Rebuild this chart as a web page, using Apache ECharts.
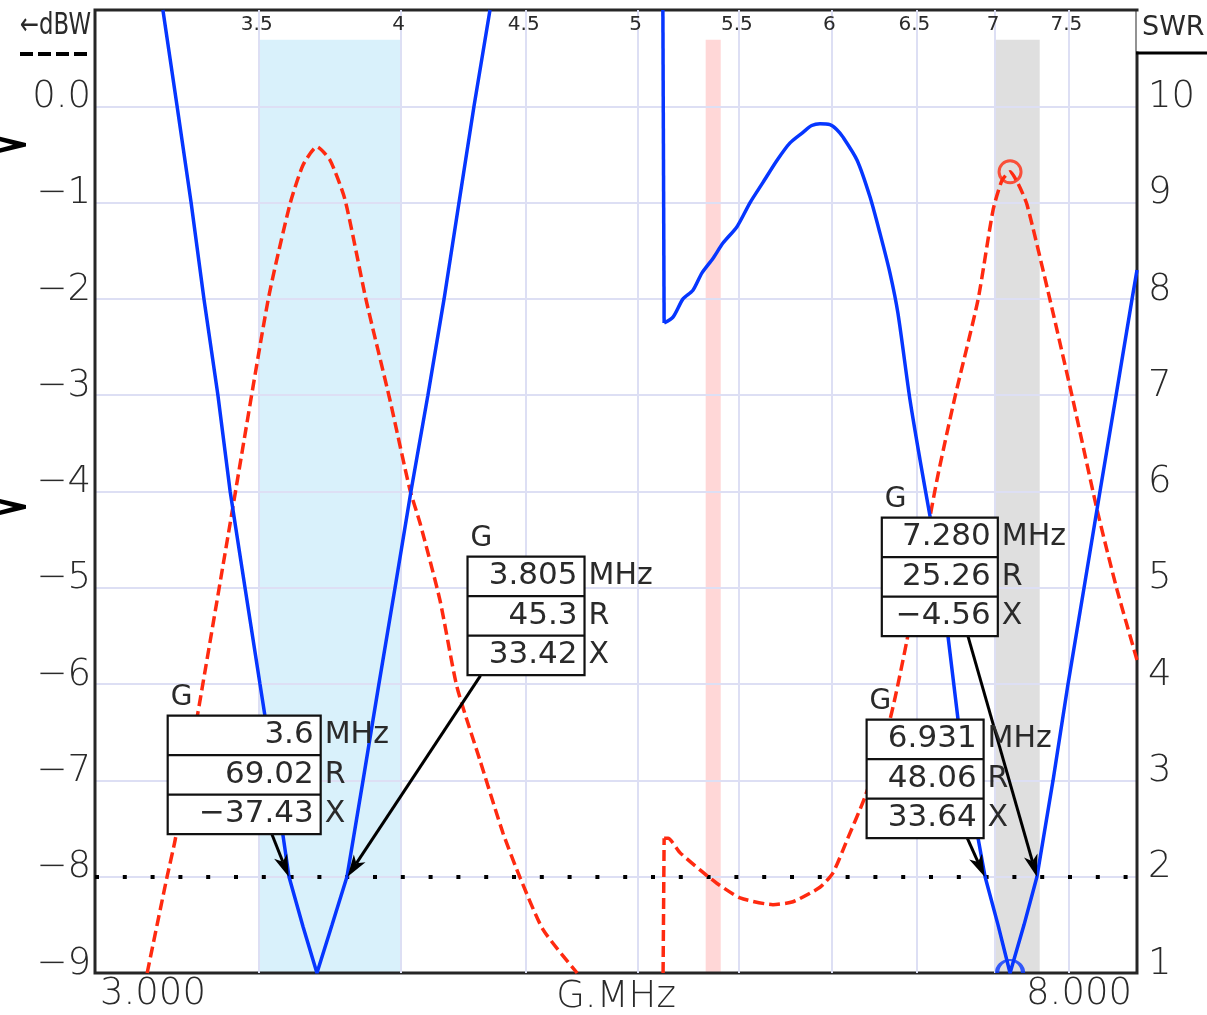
<!DOCTYPE html>
<html><head><meta charset="utf-8">
<script src="https://cdn.jsdelivr.net/npm/echarts@6/dist/echarts.min.js"></script>
<style>html,body{margin:0;padding:0;background:#fff}#c{width:1207px;height:1015px}</style>
</head><body><div id="c"></div>
<script>
// ---------- DATA ----------
// SWR curve (right axis), first resonance (80 m)
const swrFreq1 = [3.198, 3.241, 3.284, 3.324, 3.368, 3.407, 3.455, 3.504, 3.554, 3.601, 3.649, 3.697, 3.750, 3.803, 3.861, 3.919, 3.979, 4.039, 4.104, 4.167, 4.226, 4.286, 4.351];
const swrVal1  = [11.0, 10.0, 9.0, 8.0, 7.0, 6.0, 5.0, 4.0, 3.0, 2.0, 1.48, 1.0, 1.5, 2.0, 3.0, 4.0, 5.0, 6.0, 7.0, 8.0, 9.0, 10.0, 11.0];
// SWR curve, second part (60 m / 40 m)
const swrFreq2 = [5.120, 5.126, 5.169, 5.218, 5.267, 5.312, 5.367, 5.418, 5.490, 5.558, 5.626, 5.701, 5.771, 5.842, 5.890, 5.936, 5.992, 6.030, 6.066, 6.147, 6.222, 6.281, 6.340, 6.388, 6.461, 6.522, 6.584, 6.696, 6.760, 6.843, 6.934, 7.019, 7.099, 7.193, 7.281, 7.392, 7.497, 7.611, 7.726, 7.844, 7.963, 8.0];
const swrVal2  = [11.0, 7.75, 7.81, 8.00, 8.09, 8.27, 8.42, 8.58, 8.75, 9.00, 9.21, 9.44, 9.62, 9.73, 9.80, 9.82, 9.81, 9.76, 9.68, 9.44, 9.06, 8.68, 8.27, 7.85, 6.95, 6.33, 5.74, 4.50, 3.63, 2.80, 2.0, 1.5, 1.0, 1.5, 2.0, 3.0, 4.0, 5.0, 6.0, 7.0, 8.0, 8.30];
// dBW curve (left axis)
const dbwFreq1 = [3.151, 3.210, 3.235, 3.305, 3.407, 3.531, 3.604, 3.649, 3.697, 3.743, 3.796, 3.872, 3.960, 4.035, 4.074, 4.151, 4.218, 4.310, 4.405, 4.476, 4.574, 4.723];
const dbwVal1  = [-9.0, -8.01, -7.62, -6.30, -4.33, -2.01, -1.02, -0.61, -0.42, -0.56, -0.97, -2.01, -3.05, -3.98, -4.33, -5.13, -6.03, -6.79, -7.55, -8.01, -8.55, -9.0];
const dbwFreq2 = [5.121, 5.126, 5.145, 5.203, 5.302, 5.388, 5.506, 5.679, 5.787, 5.936, 6.009, 6.089, 6.193, 6.340, 6.443, 6.627, 6.740, 6.888, 6.986, 7.045, 7.099, 7.152, 7.213, 7.371, 7.532, 7.705, 7.851, 8.0];
const dbwVal2  = [-9.0, -7.60, -7.60, -7.75, -7.93, -8.07, -8.22, -8.29, -8.26, -8.11, -7.96, -7.62, -7.17, -6.37, -5.54, -3.88, -3.02, -2.01, -1.08, -0.77, -0.68, -0.80, -1.02, -2.01, -3.05, -4.19, -5.02, -5.75];
// band plan shading (MHz)
const bandStart = [3.5, 5.3305, 7.0];
const bandEnd   = [4.0, 5.4065, 7.3];
const bandTopDbw = 0.69;
// frequency tick labels along the top
const topTicks = [3.5, 4, 4.5, 5, 5.5, 6, 6.5, 7, 7.5];
const xEnds = [3, 8];
// SWR reference level
const swrRef = 2;
// markers (G): frequency, R, X
const markerFreq  = [3.6, 3.805, 6.931, 7.280];
const markerFText = ['3.6', '3.805', '6.931', '7.280'];
const markerR = [69.02, 45.3, 48.06, 25.26];
const markerX = [-37.43, 33.42, 33.64, -4.56];
// peak / minimum markers
const peakFreq = 7.099, peakDbw = -0.68, minSwr = 1.0;
// left pointers (dBW)
const pointerDbw = [-0.40, -4.16];

// ---------- STYLE ----------
const FONT = '"DejaVu Sans", sans-serif';
const BLUE = '#0636ff', RED = '#ff2a10', GRIDC = '#dddff4', TXT = '#2a2a2a';
const bandColors = ['#d9f1fb', '#ffd7d7', '#dfdfdf'];
const swrSplit = 26; // index where the rounded hump ends and the sharp V begins
const markerLayout = [
  {dx: -121, dy: -161, w: 153, sx: -17, sy: -43},
  {dx: 120, dy: -320, w: 117, sx: 133, sy: -201},
  {dx: -118, dy: -157, w: 117, sx: -18, sy: -40},
  {dx: -155, dy: -359, w: 116, sx: -69, sy: -241}
];

const zip = (a, b) => a.map((v, i) => [v, b[i]]);
const minus = s => String(s).replace('-', '\u2212');

const chart = echarts.init(document.getElementById('c'), null, {renderer: 'canvas'});

const lineBase = {type: 'line', showSymbol: false, symbol: 'none', silent: true, z: 5, animation: false};
const swr2 = zip(swrFreq2, swrVal2);
const dbw2 = zip(dbwFreq2, dbwVal2);
const RED_STYLE = {color: RED, width: 3.5, type: [11, 5]};
const BLUE_STYLE = {color: BLUE, width: 3.5};
const yLabel = {fontSize: 37, fontFamily: FONT, fontWeight: 300, color: TXT, verticalAlign: 'bottom', lineHeight: 18};

const option = {
  animation: false,
  backgroundColor: '#ffffff',
  grid: {left: 95, right: 70, top: 10, bottom: 42, show: true, borderColor: '#262626', borderWidth: 3,
         backgroundColor: 'transparent', containLabel: false, outerBoundsMode: 'none', z: 4},
  xAxis: {type: 'log', logBase: 10, min: xEnds[0], max: xEnds[1],
    axisLine: {show: false}, axisTick: {show: false}, axisLabel: {show: false}, splitLine: {show: false},
    name: 'G.MHz', nameLocation: 'middle', nameGap: 6,
    nameTextStyle: {fontSize: 37, fontFamily: FONT, fontWeight: 300, color: TXT, verticalAlign: 'top'}},
  yAxis: [
    {type: 'value', min: -9, max: 1, interval: 1, position: 'left', z: 3,
     axisLine: {show: false}, axisTick: {show: false},
     splitLine: {show: true, lineStyle: {color: GRIDC, width: 2}},
     axisLabel: Object.assign({margin: 4, formatter: v => v === 1 ? '' : (v === 0 ? '0.0' : minus(v))}, yLabel)},
    {type: 'value', min: 1, max: 11, interval: 1, position: 'right',
     axisLine: {show: false}, axisTick: {show: false}, splitLine: {show: false},
     axisLabel: Object.assign({margin: 11, formatter: v => v === 11 ? '' : String(v)}, yLabel)}
  ],
  series: [
    {type: 'line', name: 'bands', data: [], yAxisIndex: 0, z: 1, silent: true,
     markArea: {silent: true, data: bandStart.map((s, i) => [
       {xAxis: s, yAxis: -9, itemStyle: {color: bandColors[i]}}, {xAxis: bandEnd[i], yAxis: bandTopDbw}])}},
    {type: 'line', name: 'vgrid', data: [], yAxisIndex: 0, z: 3, silent: true,
     markLine: {silent: true, symbol: 'none', label: {show: false},
       lineStyle: {color: GRIDC, width: 2, type: 'solid'},
       data: topTicks.map(t => ({xAxis: t}))}},
    Object.assign({}, lineBase, {name: 'dBW', yAxisIndex: 0, data: zip(dbwFreq1, dbwVal1), smooth: 0.2, lineStyle: RED_STYLE}),
    Object.assign({}, lineBase, {name: 'dBW2a', yAxisIndex: 0, data: dbw2.slice(0, 2), lineStyle: RED_STYLE}),
    Object.assign({}, lineBase, {name: 'dBW2b', yAxisIndex: 0, data: dbw2.slice(1), smooth: 0.2, lineStyle: RED_STYLE}),
    Object.assign({}, lineBase, {name: 'SWR', yAxisIndex: 1, data: zip(swrFreq1, swrVal1), lineStyle: BLUE_STYLE}),
    Object.assign({}, lineBase, {name: 'SWR2a', yAxisIndex: 1, data: swr2.slice(0, 2), lineStyle: BLUE_STYLE}),
    Object.assign({}, lineBase, {name: 'SWR2b', yAxisIndex: 1, data: swr2.slice(1, swrSplit + 1), smooth: 0.25, lineStyle: BLUE_STYLE}),
    Object.assign({}, lineBase, {name: 'SWR2c', yAxisIndex: 1, data: swr2.slice(swrSplit), lineStyle: BLUE_STYLE,
      markLine: {silent: true, symbol: 'none', label: {show: false},
        lineStyle: {color: '#000', width: 4, type: [4, 23.8], cap: 'butt'},
        data: [{yAxis: swrRef}]}}),
    {type: 'scatter', yAxisIndex: 0, z: 6, silent: true, data: [[peakFreq, peakDbw]],
     symbol: 'circle', symbolSize: 22, itemStyle: {color: 'rgba(0,0,0,0)', borderColor: RED, borderWidth: 3}},
    {type: 'scatter', yAxisIndex: 1, z: 6, silent: true, data: [[peakFreq, minSwr]],
     symbol: 'path://M0,10 A10,10 0 0 1 20,10', symbolSize: [26, 13], symbolOffset: [0, -6.5],
     itemStyle: {color: 'rgba(0,0,0,0)', borderColor: BLUE, borderWidth: 3}}
  ]
};
chart.setOption(option);

// ---------- annotations positioned through the chart's scales ----------
const els = [];
function text(x, y, s, size, align, valign, extra, weight) {
  return Object.assign({type: 'text', x: x, y: y, z: 20, silent: true,
    style: {text: s, fontSize: size, fontFamily: FONT, fontWeight: weight || 'normal', fill: TXT,
      textAlign: align, align: align, textVerticalAlign: valign, verticalAlign: valign}}, extra || {});
}
// top tick labels
topTicks.forEach(t => {
  const x = chart.convertToPixel({xAxisIndex: 0}, t);
  els.push(text(x - 2, 25, String(t), 20, 'center', 'middle'));
});
// bottom end labels
const xl = chart.convertToPixel({xAxisIndex: 0}, xEnds[0]);
const xr = chart.convertToPixel({xAxisIndex: 0}, xEnds[1]);
els.push(text(xl + 5, 994, xEnds[0].toFixed(3), 37, 'left', 'middle', null, 300));
els.push(text(xr - 5, 994, xEnds[1].toFixed(3), 37, 'right', 'middle', null, 300));
// markers
markerFreq.forEach((f, i) => {
  const L = markerLayout[i];
  const p = chart.convertToPixel({seriesIndex: 5}, [f, swrRef]);
  const ax = p[0], ay = p[1];
  const left = ax + L.dx, top = ay + L.dy, w = L.w, rh = 39.5;
  // arrow
  const sx = ax + L.sx, sy = ay + L.sy;
  let ux = ax - sx, uy = ay - sy; const len = Math.hypot(ux, uy); ux /= len; uy /= len;
  const nx = -uy, ny = ux;
  const bx = ax - ux * 22, by = ay - uy * 22;
  const kx = ax - ux * 16, ky = ay - uy * 16;
  els.push({type: 'line', z: 18, silent: true, shape: {x1: sx, y1: sy, x2: kx, y2: ky}, style: {stroke: '#000', lineWidth: 3}});
  els.push({type: 'polygon', z: 18, silent: true, shape: {points: [[ax, ay], [bx + nx * 7, by + ny * 7], [kx, ky], [bx - nx * 7, by - ny * 7]]}, style: {fill: '#000'}});
  // box
  els.push({type: 'rect', z: 19, silent: true, shape: {x: left, y: top, width: w, height: rh * 3}, style: {fill: '#fff', stroke: '#111', lineWidth: 2.2}});
  for (let r = 1; r < 3; r++) {
    els.push({type: 'line', z: 19, silent: true, shape: {x1: left, y1: top + rh * r, x2: left + w, y2: top + rh * r}, style: {stroke: '#111', lineWidth: 2.2}});
  }
  const vals = [markerFText[i], minus(markerR[i]), minus(markerX[i])];
  const units = ['MHz', 'R', 'X'];
  vals.forEach((v, r) => {
    const cy = top + rh * (r + 0.5);
    els.push(text(left + w - 7, cy, v, 31, 'right', 'middle'));
    els.push(text(left + w + 4, cy, units[r], 30, 'left', 'middle'));
  });
  els.push(text(left + 3, top - 18, 'G', 28, 'left', 'middle'));
});
// left pointers
pointerDbw.forEach(v => {
  const y = chart.convertToPixel({yAxisIndex: 0}, v);
  els.push({type: 'polygon', z: 20, silent: true,
    shape: {points: [[0, y - 8], [26, y - 1.8], [26, y + 1.8], [0, y + 8], [0, y + 3.5], [13, y], [0, y - 3.5]]},
    style: {fill: '#000'}});
});
// legend: dBW (left) and SWR (right)
els.push(text(20, 26, '\u2190dBW', 30, 'left', 'middle', {scaleX: 0.76}));
els.push({type: 'line', z: 20, silent: true, shape: {x1: 20, y1: 54, x2: 91, y2: 54}, style: {stroke: '#000', lineWidth: 4, lineDash: [13, 5]}});
els.push({type: 'rect', z: 20, silent: true, shape: {x: 1136.5, y: 11.5, width: 71, height: 40}, style: {fill: '#fff'}});
els.push(text(1142, 28, 'SWR', 27, 'left', 'middle'));
els.push({type: 'line', z: 21, silent: true, shape: {x1: 1136, y1: 53, x2: 1207, y2: 53}, style: {stroke: '#000', lineWidth: 3}});

chart.setOption({graphic: {elements: els}});
</script>
</body></html>
